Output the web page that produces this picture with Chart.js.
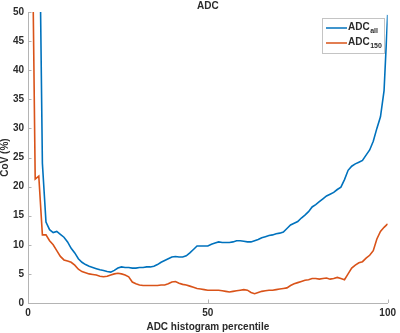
<!DOCTYPE html>
<html>
<head>
<meta charset="utf-8">
<script src="https://cdn.jsdelivr.net/npm/chart.js@4/dist/chart.umd.min.js"></script>
<style>
    html, body { margin: 0; padding: 0; background: #fff; }
</style>
</head>
<body>
<canvas id="covChart" width="400" height="333"></canvas>
<script>
var chartTitle = 'ADC';
var xAxisLabel = 'ADC histogram percentile';
var yAxisLabel = 'CoV (%)';

// percentile positions 1..100
var percentiles = Array.from({ length: 100 }, function (_, i) { return i + 1; });

var adcAll = [
    null, null, 76, 24, 13.9, 12.6, 12.1, 12.3, 11.8, 11.3,
    10.5, 9.4, 8.6, 7.6, 7.0, 6.6, 6.3, 6.1, 5.9, 5.7,
    5.6, 5.4, 5.3, 5.6, 6.0, 6.2, 6.1, 6.1, 6.0, 6.0,
    6.1, 6.1, 6.2, 6.2, 6.3, 6.6, 7.0, 7.3, 7.6, 7.9,
    8.0, 7.9, 7.9, 8.1, 8.6, 9.2, 9.8, 9.8, 9.8, 9.8,
    10.1, 10.3, 10.5, 10.4, 10.4, 10.4, 10.5, 10.7, 10.7, 10.6,
    10.5, 10.5, 10.7, 10.9, 11.2, 11.4, 11.6, 11.7, 11.9, 12.0,
    12.2, 12.8, 13.4, 13.7, 14.0, 14.6, 15.1, 15.7, 16.5, 16.9,
    17.4, 17.9, 18.4, 18.7, 19.0, 19.5, 19.9, 21.2, 22.8, 23.5,
    23.9, 24.2, 24.5, 25.4, 26.3, 27.8, 30.0, 32.0, 36.5, 49.5
];

var adc150 = [
    75, 21.3, 21.8, 11.7, 11.7, 10.7, 10.0, 9.0, 8.0, 7.4,
    7.2, 7.0, 6.5, 5.8, 5.4, 5.2, 5.0, 4.9, 4.8, 4.6,
    4.5, 4.6, 4.8, 5.0, 5.1, 5.0, 4.8, 4.5, 3.6, 3.3,
    3.1, 3.0, 3.0, 3.0, 3.0, 3.0, 3.1, 3.1, 3.3, 3.6,
    3.7, 3.4, 3.2, 3.1, 2.9, 2.7, 2.5, 2.4, 2.3, 2.2,
    2.2, 2.2, 2.2, 2.1, 2.0, 1.9, 2.0, 2.1, 2.2, 2.3,
    2.2, 1.8, 1.6, 1.8, 2.0, 2.1, 2.2, 2.2, 2.3, 2.4,
    2.5, 2.6, 3.0, 3.3, 3.5, 3.7, 3.9, 4.0, 4.2, 4.2,
    4.1, 4.2, 4.3, 4.1, 4.2, 4.4, 4.2, 4.0, 5.0, 6.0,
    6.5, 6.9, 7.1, 7.7, 8.2, 9.0, 11.0, 12.3, 13.0, 13.6
];

var seriesNames = ['ADC', 'ADC'];
var seriesSubs = ['all', '150'];
var seriesColors = ['#0072BD', '#D95319'];

var FONT = '"Liberation Sans", Arial, sans-serif';
var TEXT = '#2b2b2b';
var AXIS = '#b4b4b4';

function toPoints(values) {
    return percentiles.map(function (p, i) { return { x: p, y: values[i] }; });
}

// title, inward tick marks and legend with subscripts
var extras = {
    id: 'extras',
    afterDraw: function (chart) {
        var c = chart.ctx, a = chart.chartArea;
        var xs = chart.scales.x, ys = chart.scales.y;
        c.save();

        c.strokeStyle = AXIS;
        c.lineWidth = 1;
        ys.ticks.forEach(function (t) {
            var y = Math.round(ys.getPixelForValue(t.value)) + 0.5;
            c.beginPath(); c.moveTo(a.left, y); c.lineTo(a.left + 3.5, y); c.stroke();
        });
        xs.ticks.forEach(function (t) {
            var x = Math.round(xs.getPixelForValue(t.value)) + 0.5;
            c.beginPath(); c.moveTo(x, a.bottom); c.lineTo(x, a.bottom - 3.5); c.stroke();
        });

        c.fillStyle = TEXT;
        c.font = 'bold 10px ' + FONT;
        c.textAlign = 'center';
        c.textBaseline = 'middle';
        c.fillText(chartTitle, (a.left + a.right) / 2, 6);

        // legend box
        var bx = 322.5, by = 18.5, bw = 62, bh = 35;
        c.fillStyle = '#fff';
        c.fillRect(bx, by, bw, bh);
        c.strokeStyle = '#c4c4c4';
        c.strokeRect(bx, by, bw, bh);
        var rows = [28, 43];
        seriesNames.forEach(function (name, i) {
            var y = rows[i];
            c.strokeStyle = seriesColors[i];
            c.lineWidth = 1.5;
            c.beginPath(); c.moveTo(326, y); c.lineTo(347, y); c.stroke();
            c.fillStyle = TEXT;
            c.textAlign = 'left';
            c.textBaseline = 'middle';
            c.font = 'bold 10px ' + FONT;
            c.fillText(name, 348, y - 1);
            var w = c.measureText(name).width;
            c.font = 'bold 7px ' + FONT;
            c.fillText(seriesSubs[i], 348 + w + 0.5, y + 3.5);
        });
        c.restore();
    }
};

var ctx = document.getElementById('covChart').getContext('2d');
var covChart = new Chart(ctx, {
    type: 'line',
    data: {
        datasets: [{
            label: seriesNames[0] + seriesSubs[0],
            data: toPoints(adcAll),
            borderColor: seriesColors[0],
            borderWidth: 1.6,
            pointRadius: 0,
            tension: 0,
            order: 1
        }, {
            label: seriesNames[1] + seriesSubs[1],
            data: toPoints(adc150),
            borderColor: seriesColors[1],
            borderWidth: 1.6,
            pointRadius: 0,
            tension: 0,
            order: 0
        }]
    },
    options: {
        responsive: false,
        animation: false,
        layout: { padding: { top: 12, right: 10, left: 0, bottom: 0 } },
        plugins: {
            legend: { display: false },
            tooltip: { enabled: false }
        },
        scales: {
            x: {
                type: 'linear',
                min: 0,
                max: 100,
                grid: { display: false, drawTicks: false },
                border: { display: true, color: AXIS, width: 1 },
                ticks: {
                    stepSize: 50,
                    padding: 4,
                    color: TEXT,
                    maxRotation: 0,
                    font: { family: FONT, size: 10, weight: 'bold' }
                },
                title: {
                    display: true,
                    text: xAxisLabel,
                    color: TEXT,
                    padding: { top: 2, bottom: 0 },
                    font: { family: FONT, size: 10, weight: 'bold', lineHeight: 1.2 }
                },
                afterFit: function (s) { s.height = 30; }
            },
            y: {
                min: 0,
                max: 50,
                grid: { display: false, drawTicks: false },
                border: { display: true, color: AXIS, width: 1 },
                ticks: {
                    stepSize: 5,
                    padding: 4,
                    color: TEXT,
                    font: { family: FONT, size: 10, weight: 'bold' }
                },
                title: {
                    display: true,
                    text: yAxisLabel,
                    color: TEXT,
                    padding: { top: 0, bottom: 0 },
                    font: { family: FONT, size: 10, weight: 'bold', lineHeight: 1 }
                },
                afterFit: function (s) { s.width = 28; }
            }
        }
    },
    plugins: [extras]
});
</script>
</body>
</html>
